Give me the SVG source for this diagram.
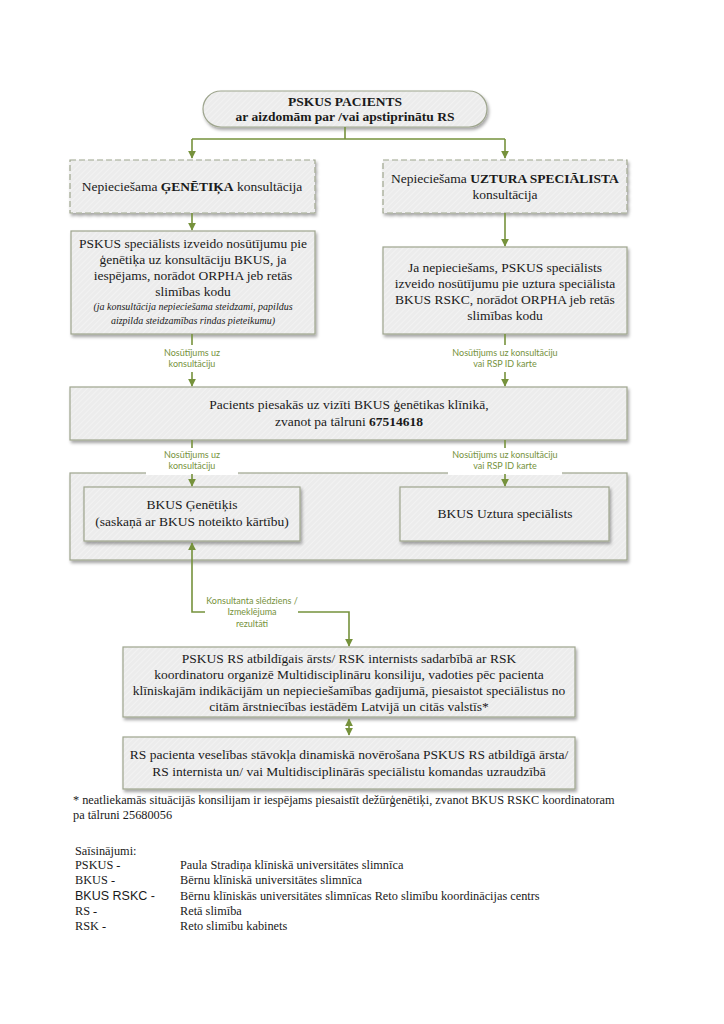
<svg xmlns="http://www.w3.org/2000/svg" width="724" height="1024" viewBox="0 0 724 1024">
<style>
.box{fill:url(#hatch);stroke:#9ea58e;stroke-width:1.2;filter:url(#sh)}
.dash{stroke-dasharray:6 3}
.t{font-family:"Liberation Serif","Times New Roman",serif;font-size:13.5px;fill:#1a1a1a;text-anchor:middle}
.ti{font-family:"Liberation Serif","Times New Roman",serif;font-size:10px;font-style:italic;fill:#1a1a1a;text-anchor:middle}
.lbl{font-family:Lato,"Open Sans",sans-serif;font-size:9px;fill:#76923c;text-anchor:middle}
.ft{font-family:"Liberation Serif","Times New Roman",serif;font-size:12.3px;fill:#1a1a1a}
.c{fill:none;stroke:#76923c;stroke-width:1.6}
.b{font-weight:bold}
</style>
<defs>
<pattern id="hatch" width="4" height="4" patternUnits="userSpaceOnUse" patternTransform="rotate(45)">
<rect width="4" height="4" fill="#ececec"/>
<line x1="0" y1="0" x2="0" y2="4" stroke="#f5f5f5" stroke-width="1.5"/>
</pattern>
<filter id="sh" x="-5%" y="-10%" width="115%" height="130%">
<feDropShadow dx="1.5" dy="2.5" stdDeviation="1.5" flood-color="#000" flood-opacity="0.35"/>
</filter>
<marker id="ah" viewBox="0 0 10 10" refX="9" refY="5" markerWidth="5" markerHeight="5" orient="auto-start-reverse">
<path d="M0,0 L10,5 L0,10 z" fill="#76923c"/>
</marker>
</defs>
<rect width="724" height="1024" fill="#fff"/>

<g id="n-top">
<rect class="box" x="203" y="91" width="284" height="36" rx="18"/>
<text class="t b" x="345" y="106">PSKUS PACIENTS</text>
<text class="t b" x="345" y="121">ar aizdomām par /vai apstiprinātu RS</text>
</g>

<g id="n-gen-need">
<rect class="box dash" x="70" y="160" width="245" height="53"/>
<text class="t" x="192" y="191">Nepieciešama <tspan class="b">ĢENĒTIĶA</tspan> konsultācija</text>
</g>

<g id="n-diet-need">
<rect class="box dash" x="383" y="160" width="244" height="53"/>
<text class="t" x="505" y="183">Nepieciešama <tspan class="b">UZTURA SPECIĀLISTA</tspan></text>
<text class="t" x="505" y="199">konsultācija</text>
</g>

<g id="n-gen-ref">
<rect class="box" x="71" y="231" width="244" height="103"/>
<text class="t" x="193" y="248">PSKUS speciālists izveido nosūtījumu pie</text>
<text class="t" x="193" y="264">ģenētiķa uz konsultāciju BKUS, ja</text>
<text class="t" x="193" y="280">iespējams, norādot ORPHA jeb retās</text>
<text class="t" x="193" y="296">slimības kodu</text>
<text class="ti" x="193" y="310">(ja konsultācija nepieciešama steidzami, papildus</text>
<text class="ti" x="193" y="324">aizpilda steidzamības rindas pieteikumu)</text>
</g>

<g id="n-diet-ref">
<rect class="box" x="383" y="247" width="244" height="87"/>
<text class="t" x="505" y="272">Ja nepieciešams, PSKUS speciālists</text>
<text class="t" x="505" y="288">izveido nosūtījumu pie uztura speciālista</text>
<text class="t" x="505" y="304">BKUS RSKC,  norādot ORPHA jeb retās</text>
<text class="t" x="505" y="320">slimības kodu</text>
</g>

<g id="n-visit">
<rect class="box" x="70" y="387" width="557" height="53"/>
<text class="t" x="349" y="409">Pacients piesakās uz vizīti  BKUS ģenētikas klīnikā,</text>
<text class="t" x="349" y="426">zvanot pa tālruni  <tspan class="b">67514618</tspan></text>
</g>

<g id="n-container">
<rect class="box" x="70" y="473" width="557" height="87"/>
</g>

<g id="n-geneticist">
<rect class="box" x="84" y="487" width="216" height="54"/>
<text class="t" x="192" y="509">BKUS Ģenētiķis</text>
<text class="t" x="192" y="526">(saskaņā ar BKUS noteikto kārtību)</text>
</g>

<g id="n-dietitian">
<rect class="box" x="400" y="487" width="209" height="54"/>
<text class="t" x="505" y="518">BKUS Uztura speciālists</text>
</g>

<g id="n-council">
<rect class="box" x="123" y="647" width="452" height="70"/>
<text class="t" x="349" y="663">PSKUS RS atbildīgais ārsts/ RSK internists sadarbībā ar RSK</text>
<text class="t" x="349" y="679">koordinatoru organizē Multidisciplināru konsiliju, vadoties pēc pacienta</text>
<text class="t" x="349" y="695">klīniskajām indikācijām un nepieciešamības gadījumā, piesaistot speciālistus no</text>
<text class="t" x="349" y="711">citām ārstniecības iestādēm Latvijā un citās valstīs*</text>
</g>

<g id="n-monitor">
<rect class="box" x="123" y="737" width="452" height="52"/>
<text class="t" x="349" y="759">RS pacienta veselības stāvokļa dinamiskā novērošana PSKUS RS atbildīgā ārsta/</text>
<text class="t" x="349" y="776">RS internista un/ vai Multidisciplinārās speciālistu komandas uzraudzībā</text>
</g>

<g id="connectors">
<path class="c" d="M345,127 V139 M192,139 H505"/>
<path class="c" d="M192,139 V158" marker-end="url(#ah)"/>
<path class="c" d="M505,139 V158" marker-end="url(#ah)"/>
<path class="c" d="M192,213 V230" marker-end="url(#ah)"/>
<path class="c" d="M505,213 V246" marker-end="url(#ah)"/>
<path class="c" d="M192,334 V345"/>
<path class="c" d="M192,372 V386" marker-end="url(#ah)"/>
<path class="c" d="M505,334 V345"/>
<path class="c" d="M505,372 V386" marker-end="url(#ah)"/>
<text class="lbl" x="192" y="356">Nosūtījums uz</text>
<text class="lbl" x="192" y="367">konsultāciju</text>
<text class="lbl" x="505" y="356">Nosūtījums uz konsultāciju</text>
<text class="lbl" x="505" y="367">vai RSP ID karte</text>
<path class="c" d="M192,440 V448"/>
<path class="c" d="M505,440 V448"/>
<rect x="146" y="449" width="92" height="26" fill="#fff"/>
<rect x="448" y="449" width="114" height="26" fill="#fff"/>
<text class="lbl" x="192" y="458">Nosūtījums uz</text>
<text class="lbl" x="192" y="469">konsultāciju</text>
<text class="lbl" x="505" y="458">Nosūtījums uz konsultāciju</text>
<text class="lbl" x="505" y="469">vai RSP ID karte</text>
<path class="c" d="M192,474 V486" marker-end="url(#ah)"/>
<path class="c" d="M505,474 V486" marker-end="url(#ah)"/>
<path class="c" d="M205,612 H192 V543" marker-end="url(#ah)"/>
<path class="c" d="M298,612 H349 V646" marker-end="url(#ah)"/>
<text class="lbl" x="252" y="604">Konsultanta slēdziens /</text>
<text class="lbl" x="252" y="615">Izmeklējuma</text>
<text class="lbl" x="252" y="627">rezultāti</text>
<path class="c" d="M349,719 V735" marker-start="url(#ah)" marker-end="url(#ah)"/>
</g>

<g id="footnote">
<text class="ft" x="73" y="804">* neatliekamās situācijās konsilijam ir iespējams piesaistīt dežūrģenētiķi, zvanot BKUS RSKC koordinatoram</text>
<text class="ft" x="73" y="819">pa tālruni 25680056</text>
</g>

<g id="abbreviations">
<text class="ft" x="75" y="855">Saīsinājumi:</text>
<text class="ft" x="75" y="869">PSKUS  -</text>
<text class="ft" x="180" y="869">Paula Stradiņa klīniskā universitātes slimnīca</text>
<text class="ft" x="75" y="884">BKUS  -</text>
<text class="ft" x="180" y="884">Bērnu klīniskā universitātes slimnīca</text>
<text class="ft" x="75" y="900" style="font-family:'Liberation Sans',Arial,sans-serif;font-size:12.5px">BKUS RSKC -</text>
<text class="ft" x="180" y="900">Bērnu klīniskās universitātes slimnīcas Reto slimību koordinācijas centrs</text>
<text class="ft" x="75" y="915">RS -</text>
<text class="ft" x="180" y="915">Retā slimība</text>
<text class="ft" x="75" y="930">RSK -</text>
<text class="ft" x="180" y="930">Reto slimību kabinets</text>
</g>
</svg>
